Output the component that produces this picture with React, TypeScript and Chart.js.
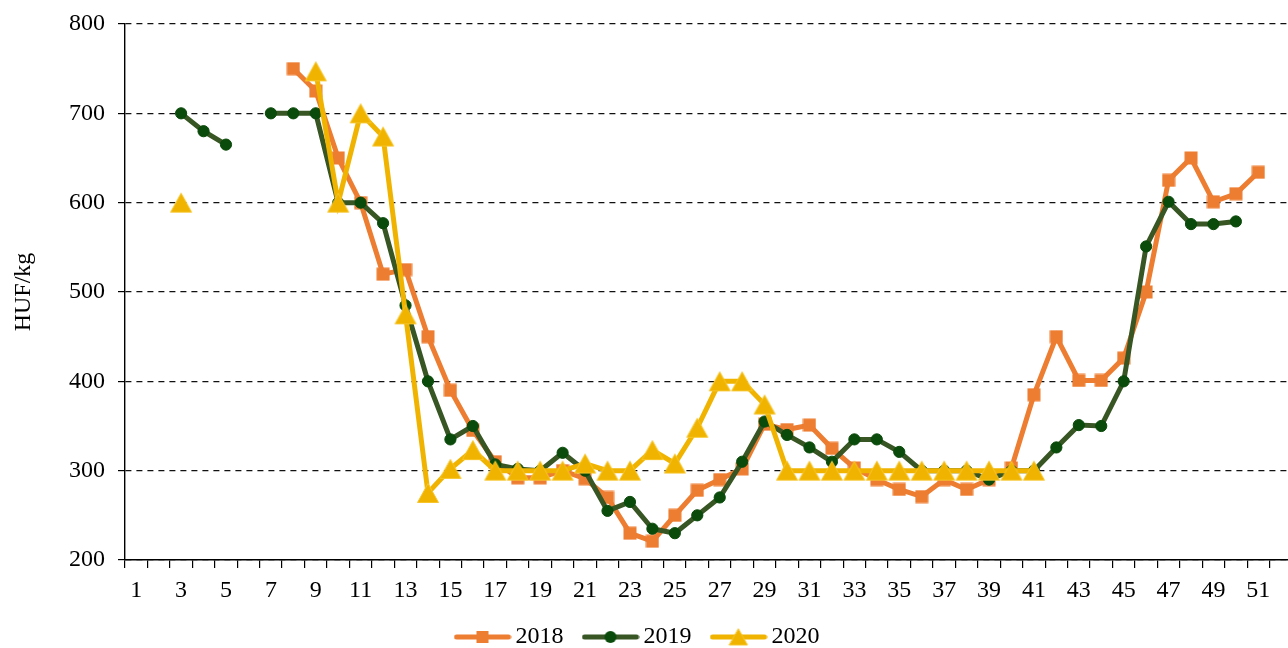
import React, { useEffect, useRef } from "react";
import { Chart, registerables } from "chart.js";

Chart.register(...registerables);

// ---- data ----
const weeks: string[] = [
  "1", "2", "3", "4", "5", "6", "7", "8", "9", "10", "11", "12", "13",
  "14", "15", "16", "17", "18", "19", "20", "21", "22", "23", "24", "25", "26",
  "27", "28", "29", "30", "31", "32", "33", "34", "35", "36", "37", "38", "39",
  "40", "41", "42", "43", "44", "45", "46", "47", "48", "49", "50", "51", "52",
];

const seriesNames: string[] = ["2018", "2019", "2020"];

const values2018: (number | null)[] = [
  null, null, null, null, null, null, null, 750, 725, 650, 600, 520, 525,
  450, 390, 345, 310, 292, 292, 300, 291, 270, 230, 221, 250, 278,
  290, 302, 352, 346, 351, 325, 303, 290, 279, 271, 290, 279, 290,
  303, 385, 450, 401, 401, 426, 500, 625, 650, 601, 610, 634, null,
];

const values2019: (number | null)[] = [
  null, null, 700, 680, 665, null, 700, 700, 700, 600, 600, 577, 485,
  400, 335, 350, 307, 302, 300, 320, 300, 255, 265, 235, 230, 250,
  270, 310, 355, 340, 326, 310, 335, 335, 321, 300, 300, 300, 290,
  300, 300, 326, 351, 350, 400, 551, 601, 576, 576, 579, null, null,
];

const values2020: (number | null)[] = [
  null, null, 600, null, null, null, null, null, 747, 600, 700, 674, 475,
  275, 302, 323, 300, 300, 300, 300, 308, 300, 300, 323, 308, 348,
  400, 400, 374, 300, 300, 300, 300, 300, 300, 300, 300, 300, 300,
  300, 300, null, null, null, null, null, null, null, null, null, null, null,
];

const yTicks: number[] = [200, 300, 400, 500, 600, 700, 800];

// ---- styles ----
const ORANGE = "#ED7D31";
const GREEN_LINE = "#375623";
const GREEN_MARK = "#0A4A0A";
const YELLOW = "#F0B400";
const FONT = "'Liberation Serif', 'Times New Roman', serif";
const FONT_SIZE = 24;

function makeCanvas(w: number, h: number, draw: (ctx: CanvasRenderingContext2D) => void) {
  const c = document.createElement("canvas");
  c.width = w;
  c.height = h;
  const ctx = c.getContext("2d")!;
  draw(ctx);
  return c;
}

function drawSquare(ctx: CanvasRenderingContext2D, cx: number, cy: number, s: number) {
  ctx.fillStyle = ORANGE;
  ctx.fillRect(cx - s / 2, cy - s / 2, s, s);
}
function drawTri(ctx: CanvasRenderingContext2D, cx: number, cy: number, w: number, h: number) {
  ctx.beginPath();
  ctx.moveTo(cx, cy - h / 2);
  ctx.lineTo(cx + w / 2, cy + h / 2);
  ctx.lineTo(cx - w / 2, cy + h / 2);
  ctx.closePath();
  ctx.fillStyle = YELLOW;
  ctx.fill();
  ctx.strokeStyle = "#F7C52A";
  ctx.lineWidth = 1;
  ctx.stroke();
}
function drawDot(ctx: CanvasRenderingContext2D, cx: number, cy: number, r: number) {
  ctx.beginPath();
  ctx.arc(cx, cy, r, 0, Math.PI * 2);
  ctx.fillStyle = GREEN_MARK;
  ctx.fill();
}

function legendIcon(color: string, marker: (ctx: CanvasRenderingContext2D) => void) {
  return makeCanvas(58, 24, (ctx) => {
    ctx.strokeStyle = color;
    ctx.lineWidth = 5;
    ctx.lineCap = "round";
    ctx.beginPath();
    ctx.moveTo(3, 12);
    ctx.lineTo(55, 12);
    ctx.stroke();
    marker(ctx);
  });
}

export default function App() {
  const ref = useRef<HTMLCanvasElement | null>(null);

  useEffect(() => {
    if (!ref.current) return;
    const squareImg = makeCanvas(14, 14, (ctx) => drawSquare(ctx, 7, 7, 13));
    const triImg = makeCanvas(24, 22, (ctx) => drawTri(ctx, 12, 11, 21, 19));
    const icons = [
      legendIcon(ORANGE, (ctx) => drawSquare(ctx, 29, 12, 12)),
      legendIcon(GREEN_LINE, (ctx) => drawDot(ctx, 29, 12, 6)),
      legendIcon(YELLOW, (ctx) => drawTri(ctx, 29, 12, 18, 16)),
    ];

    const legendShift = {
      id: "legendShift",
      afterLayout(chart: any) {
        const lg = chart.legend;
        if (!lg) return;
        const dx = -6;
        const dy = -11;
        lg.left += dx;
        lg.right += dx;
        lg.top += dy;
        lg.bottom += dy;
      },
    };

    const chart = new Chart(ref.current, {
      type: "line",
      data: {
        labels: weeks,
        datasets: [
          {
            label: seriesNames[0],
            data: values2018,
            borderColor: ORANGE,
            backgroundColor: ORANGE,
            borderWidth: 5,
            pointStyle: squareImg as any,
            pointRadius: 6,
            spanGaps: false,
            order: 3,
          },
          {
            label: seriesNames[1],
            data: values2019,
            borderColor: GREEN_LINE,
            backgroundColor: GREEN_MARK,
            pointBackgroundColor: GREEN_MARK,
            pointBorderColor: GREEN_MARK,
            pointBorderWidth: 1,
            borderWidth: 5,
            pointStyle: "circle",
            pointRadius: 5.6,
            spanGaps: false,
            order: 2,
          },
          {
            label: seriesNames[2],
            data: values2020,
            borderColor: YELLOW,
            backgroundColor: YELLOW,
            borderWidth: 5,
            pointStyle: triImg as any,
            pointRadius: 8,
            spanGaps: false,
            order: 1,
          },
        ],
      },
      options: {
        responsive: false,
        animation: false,
        layout: { padding: { top: 24, right: 12, bottom: -22, left: 0 } },
        plugins: {
          tooltip: { enabled: false },
          legend: {
            position: "bottom",
            labels: {
              usePointStyle: true,
              pointStyleWidth: 42,
              padding: 26,
              color: "#000",
              font: { family: FONT, size: FONT_SIZE },
              generateLabels: (ch: any) =>
                ch.data.datasets.map((ds: any, i: number) => ({
                  text: ds.label,
                  pointStyle: icons[i],
                  fillStyle: "rgba(0,0,0,0)",
                  strokeStyle: "rgba(0,0,0,0)",
                  lineWidth: 0,
                  hidden: false,
                  datasetIndex: i,
                  fontColor: "#000",
                })),
            },
          },
        },
        scales: {
          x: {
            type: "category",
            offset: true,
            afterFit: (s: any) => {
              s.height = 50;
              s.paddingLeft = 0;
              s.paddingRight = 0;
            },
            grid: {
              display: true,
              drawOnChartArea: false,
              drawTicks: true,
              tickLength: 8,
              offset: true,
              color: "#000",
              tickColor: "#000",
              lineWidth: 1.2,
            },
            border: { display: true, color: "#000", width: 1.4 },
            ticks: {
              autoSkip: false,
              maxRotation: 0,
              padding: 8,
              color: "#000",
              font: { family: FONT, size: FONT_SIZE },
              callback: (_v: any, i: number) => (i % 2 === 0 && i < 51 ? weeks[i] : ""),
            },
          },
          y: {
            min: yTicks[0],
            max: yTicks[yTicks.length - 1],
            afterFit: (s: any) => {
              s.width = 125;
              s.paddingTop = 0;
              s.paddingBottom = 0;
            },
            afterBuildTicks: (s: any) => {
              s.ticks = yTicks.map((v) => ({ value: v }));
            },
            grid: {
              color: "#111",
              lineWidth: 1.2,
              drawTicks: true,
              tickLength: 7,
              tickColor: "#000",
              tickWidth: 1.2,
            },
            border: { display: true, color: "#000", width: 1.4, dash: [6, 5] },
            ticks: {
              padding: 13,
              color: "#000",
              font: { family: FONT, size: FONT_SIZE },
            },
            title: {
              display: true,
              text: "HUF/kg",
              color: "#000",
              font: { family: FONT, size: FONT_SIZE },
              padding: { top: 9, bottom: 0 },
            },
          },
        },
      },
      plugins: [legendShift],
    });

    return () => chart.destroy();
  }, []);

  return (
    <div style={{ position: "fixed", left: 0, top: 0, width: 1305, height: 648, background: "#fff" }}>
      <canvas ref={ref} width={1305} height={648} style={{ display: "block" }} />
    </div>
  );
}
